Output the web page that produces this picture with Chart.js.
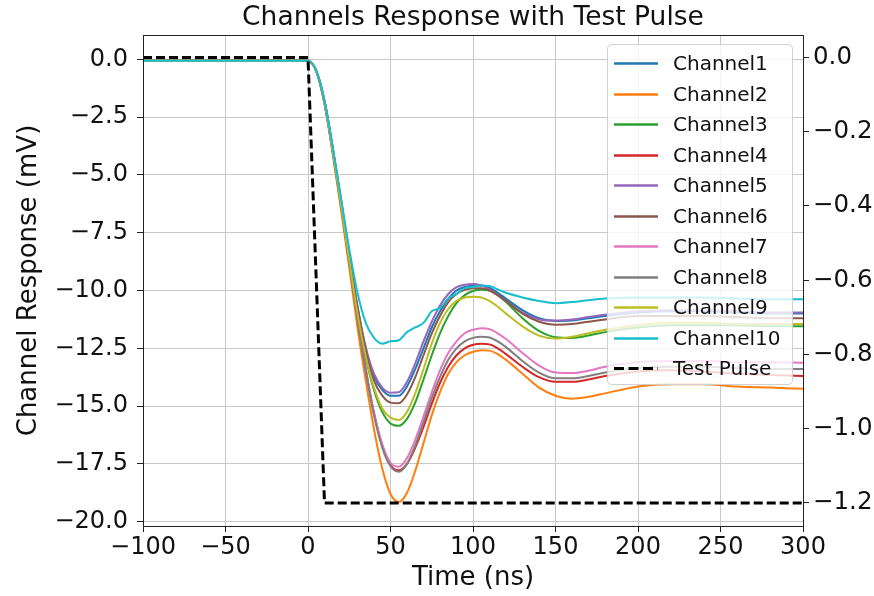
<!DOCTYPE html>
<html>
<head>
<meta charset="utf-8">
<script src="https://cdn.jsdelivr.net/npm/chart.js@4.4.1/dist/chart.umd.min.js"></script>
<style>
html,body{margin:0;padding:0;background:#fff;overflow:hidden;}
#wrap{position:relative;width:874px;height:596px;overflow:hidden;}
#c{position:absolute;left:0;top:0;}
#legend{position:absolute;left:607px;top:44px;width:186px;height:341px;box-sizing:border-box;background:rgba(255,255,255,0.8);border:1px solid rgba(204,204,204,0.9);border-radius:5px;font-family:"DejaVu Sans";font-size:20px;color:#111;}
.row{position:absolute;left:0;height:30px;width:184px;}
.row svg{position:absolute;left:5px;top:0;}
.row span{position:absolute;left:65px;top:0;line-height:30px;white-space:nowrap;}
</style>
</head>
<body>
<div id="wrap">
<canvas id="c" width="874" height="596"></canvas>
<div id="legend"></div>
</div>
<script>
// ---- data ----
const times = [-100, -50, 0, 5, 10, 15, 20, 25, 30, 35, 40, 45, 50, 55, 60, 65, 70, 75, 80, 85, 90, 95, 100, 105, 110, 115, 120, 130, 140, 150, 160, 170, 180, 200, 220, 240, 260, 280, 300];

const channel1 = [-0.06,-0.06,-0.06,-0.5,-1.8,-3.85,-6.1,-8.5,-10.7,-12.5,-13.7,-14.3,-14.55,-14.55,-14.15,-13.4,-12.5,-11.6,-10.9,-10.35,-10.0,-9.85,-9.78,-9.78,-9.88,-10.1,-10.35,-10.85,-11.2,-11.32,-11.3,-11.2,-11.1,-10.95,-10.9,-10.9,-10.95,-11.0,-11.0];
const channel2 = [-0.06,-0.06,-0.06,-0.5,-1.9,-4.1,-6.5,-9.0,-11.6,-13.9,-16.0,-17.7,-18.8,-19.15,-18.75,-17.8,-16.6,-15.4,-14.4,-13.6,-13.1,-12.8,-12.65,-12.58,-12.6,-12.75,-13.0,-13.6,-14.2,-14.55,-14.68,-14.6,-14.45,-14.15,-14.05,-14.05,-14.15,-14.2,-14.25];
const channel3 = [-0.06,-0.06,-0.06,-0.5,-1.85,-3.95,-6.25,-8.7,-11.0,-12.9,-14.3,-15.25,-15.75,-15.85,-15.55,-14.85,-13.85,-12.8,-11.85,-11.1,-10.55,-10.2,-10.02,-9.97,-10.0,-10.2,-10.5,-11.2,-11.75,-12.02,-12.05,-11.95,-11.8,-11.6,-11.5,-11.5,-11.5,-11.55,-11.55];
const channel4 = [-0.06,-0.06,-0.06,-0.5,-1.9,-4.0,-6.3,-8.8,-11.2,-13.4,-15.3,-16.7,-17.55,-17.78,-17.5,-16.8,-15.9,-14.9,-14.0,-13.3,-12.8,-12.5,-12.35,-12.3,-12.33,-12.5,-12.75,-13.3,-13.75,-13.95,-13.95,-13.85,-13.7,-13.5,-13.45,-13.5,-13.6,-13.65,-13.7];
const channel5 = [-0.06,-0.06,-0.06,-0.5,-1.8,-3.85,-6.1,-8.5,-10.7,-12.45,-13.6,-14.2,-14.42,-14.4,-13.95,-13.15,-12.2,-11.35,-10.65,-10.15,-9.85,-9.75,-9.72,-9.78,-9.95,-10.2,-10.45,-10.95,-11.25,-11.3,-11.25,-11.15,-11.05,-10.9,-10.85,-10.85,-10.9,-10.95,-10.95];
const channel6 = [-0.06,-0.06,-0.06,-0.5,-1.8,-3.85,-6.1,-8.5,-10.75,-12.6,-13.9,-14.55,-14.85,-14.88,-14.5,-13.75,-12.8,-11.85,-11.1,-10.5,-10.15,-9.97,-9.9,-9.9,-10.0,-10.2,-10.45,-11.0,-11.35,-11.48,-11.45,-11.35,-11.25,-11.1,-11.1,-11.1,-11.15,-11.2,-11.2];
const channel7 = [-0.06,-0.06,-0.06,-0.5,-1.9,-4.0,-6.3,-8.8,-11.2,-13.4,-15.3,-16.65,-17.45,-17.62,-17.25,-16.45,-15.45,-14.4,-13.45,-12.7,-12.2,-11.85,-11.7,-11.63,-11.67,-11.85,-12.1,-12.7,-13.25,-13.55,-13.57,-13.47,-13.3,-13.1,-13.05,-13.05,-13.1,-13.1,-13.12];
const channel8 = [-0.06,-0.06,-0.06,-0.5,-1.9,-4.0,-6.3,-8.8,-11.2,-13.45,-15.4,-16.8,-17.6,-17.84,-17.5,-16.7,-15.7,-14.65,-13.75,-13.0,-12.5,-12.2,-12.05,-12.0,-12.03,-12.2,-12.45,-13.05,-13.55,-13.8,-13.8,-13.7,-13.55,-13.35,-13.3,-13.3,-13.35,-13.4,-13.4];
const channel9 = [-0.06,-0.06,-0.06,-0.5,-1.85,-3.95,-6.25,-8.7,-11.0,-12.85,-14.2,-15.1,-15.5,-15.6,-15.25,-14.45,-13.4,-12.3,-11.4,-10.8,-10.45,-10.3,-10.27,-10.3,-10.45,-10.7,-11.0,-11.55,-11.95,-12.08,-12.0,-11.85,-11.7,-11.5,-11.4,-11.4,-11.45,-11.45,-11.45];
const channel10 = [-0.06,-0.06,-0.06,-0.5,-1.8,-3.8,-6.0,-8.2,-10.1,-11.4,-12.05,-12.3,-12.2,-12.15,-11.8,-11.6,-11.4,-10.9,-10.75,-10.35,-10.15,-9.9,-9.85,-9.78,-9.8,-9.95,-10.1,-10.3,-10.45,-10.55,-10.5,-10.42,-10.35,-10.3,-10.3,-10.3,-10.35,-10.38,-10.38];

const pulseTimes = [-100, 0, 10, 300];
const pulseValues = [0, 0, -1.2, -1.2];

const channelNames = ['Channel1','Channel2','Channel3','Channel4','Channel5','Channel6','Channel7','Channel8','Channel9','Channel10'];
const pulseName = 'Test Pulse';

const leftTicks = [0, -2.5, -5, -7.5, -10, -12.5, -15, -17.5, -20];
const rightTicks = [0, -0.2, -0.4, -0.6, -0.8, -1.0, -1.2];
const xTicks = [-100, -50, 0, 50, 100, 150, 200, 250, 300];

// ---- styles ----
const colors = ['#1f77b4','#ff7f0e','#2ca02c','#d62728','#9467bd','#8c564b','#e377c2','#7f7f7f','#bcbd22','#17becf'];
const FONT = '"DejaVu Sans", "Liberation Sans", sans-serif';
const channelSeries = [channel1, channel2, channel3, channel4, channel5, channel6, channel7, channel8, channel9, channel10];

function fmt(v, d) {
  const s = Math.abs(v).toFixed(d);
  return (v < 0 && Number(s) !== 0 ? '\u2212' : '') + s;
}

const datasets = [];
datasets.push({
  label: pulseName,
  data: pulseTimes.map((t, i) => ({x: t, y: pulseValues[i]})),
  yAxisID: 'y2',
  borderColor: '#000',
  borderWidth: 3,
  borderDash: [9, 4],
  pointRadius: 0,
  tension: 0,
  order: 0
});
channelSeries.forEach((vals, k) => {
  datasets.push({
    label: channelNames[k],
    data: times.map((t, i) => ({x: t, y: vals[i]})),
    yAxisID: 'y',
    borderColor: colors[k],
    borderWidth: 2,
    pointRadius: 0,
    cubicInterpolationMode: 'monotone',
    order: 20 - k
  });
});

const framePlugin = {
  id: 'frame',
  afterDraw(chart) {
    const a = chart.chartArea, ctx = chart.ctx;
    ctx.save();
    ctx.strokeStyle = '#222';
    ctx.lineWidth = 1;
    ctx.strokeRect(Math.round(a.left) + 0.5, Math.round(a.top) + 0.5, Math.round(a.right - a.left), Math.round(a.bottom - a.top));
    ctx.restore();
  }
};

const tickFont = {family: FONT, size: 24};

new Chart(document.getElementById('c'), {
  type: 'line',
  data: {datasets},
  plugins: [framePlugin],
  options: {
    responsive: false,
    animation: false,
    events: [],
    layout: {padding: 0},
    plugins: {
      legend: {display: false},
      tooltip: {enabled: false},
      title: {
        display: true,
        text: 'Channels Response with Test Pulse',
        fullSize: false,
        color: '#111',
        font: {family: FONT, size: 26.5, weight: 'normal', lineHeight: 1.2},
        padding: {top: 2.2, bottom: 1.0}
      }
    },
    scales: {
      x: {
        type: 'linear',
        position: 'bottom',
        min: -100, max: 300,
        afterBuildTicks: s => { s.ticks = xTicks.map(v => ({value: v})); },
        afterFit: s => { s.height = 70; },
        ticks: {color: '#111', font: tickFont, padding: 1, maxRotation: 0, autoSkip: false, callback: v => fmt(v, 0)},
        grid: {color: '#c8c8c8', lineWidth: 1, drawTicks: true, tickLength: 6, tickColor: '#222'},
        border: {display: false},
        title: {display: true, text: 'Time (ns)', color: '#111', font: {family: FONT, size: 26, lineHeight: 1.2}, padding: {top: 0, bottom: 2.0}}
      },
      y: {
        type: 'linear',
        position: 'left',
        min: -20.186, max: 1.051,
        afterBuildTicks: s => { s.ticks = leftTicks.map(v => ({value: v})); },
        afterFit: s => { s.width = 143; },
        ticks: {color: '#111', font: tickFont, padding: 9, autoSkip: false, callback: v => fmt(v, 1)},
        grid: {color: '#c8c8c8', lineWidth: 1, drawTicks: true, tickLength: 6, tickColor: '#222'},
        border: {display: false},
        title: {display: true, text: 'Channel Response (mV)', color: '#111', font: {family: FONT, size: 26, lineHeight: 1.2}, padding: {top: 13.5, bottom: 0}}
      },
      y2: {
        type: 'linear',
        position: 'right',
        min: -1.262, max: 0.0606,
        afterBuildTicks: s => { s.ticks = rightTicks.map(v => ({value: v})); },
        afterFit: s => { s.width = 71; },
        ticks: {color: '#111', font: {family: FONT, size: 24.5}, padding: 4, autoSkip: false, callback: v => fmt(v, 1)},
        grid: {display: true, drawOnChartArea: false, drawTicks: true, tickLength: 6, tickColor: '#222'},
        border: {display: false}
      }
    }
  }
});

// ---- HTML legend built from the same series ----
const legend = document.getElementById('legend');
const entries = channelNames.map((n, k) => ({name: n, color: colors[k], dash: false}));
entries.push({name: pulseName, color: '#000', dash: true});
entries.forEach((e, i) => {
  const row = document.createElement('div');
  row.className = 'row';
  row.style.top = (19.3 + 30.5 * i - 16) + 'px';
  const dash = e.dash ? 'stroke-dasharray="10 4.5"' : '';
  const w = e.dash ? 3 : 2.5;
  row.innerHTML = '<svg width="46" height="30"><line x1="1" y1="15.5" x2="45" y2="15.5" stroke="' + e.color + '" stroke-width="' + w + '" ' + dash + '/></svg>';
  const sp = document.createElement('span');
  sp.textContent = e.name;
  row.appendChild(sp);
  legend.appendChild(row);
});
</script>
</body>
</html>
